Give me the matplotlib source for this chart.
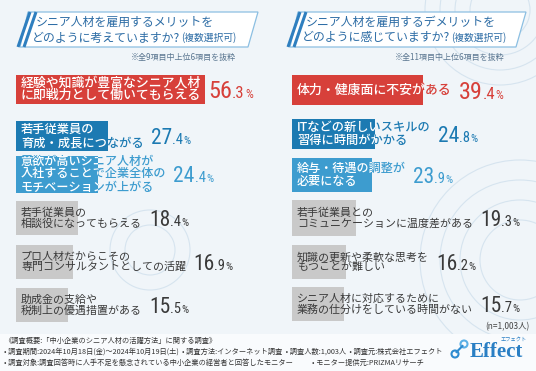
import matplotlib.pyplot as plt
from matplotlib import font_manager
from matplotlib.patches import Polygon, Arc, Circle, Rectangle

plt.rcParams['font.family'] = ['Noto Sans CJK JP', 'DejaVu Sans']

W, H = 536, 371

left_title = "シニア人材を雇用するメリットを"
left_title2 = "どのように考えていますか?"
left_note = "※全9項目中上位6項目を抜粋"
left_labels = [
    "経験や知識が豊富なシニア人材\nに即戦力として働いてもらえる",
    "若手従業員の\n育成・成長につながる",
    "意欲が高いシニア人材が\n入社することで企業全体の\nモチベーションが上がる",
    "若手従業員の\n相談役になってもらえる",
    "プロ人材だからこその\n専門コンサルタントとしての活躍",
    "助成金の支給や\n税制上の優遇措置がある",
]
left_values = [56.3, 27.4, 24.4, 18.4, 16.9, 15.5]

right_title = "シニア人材を雇用するデメリットを"
right_title2 = "どのように感じていますか?"
right_note = "※全11項目中上位6項目を抜粋"
right_labels = [
    "体力・健康面に不安がある",
    "ITなどの新しいスキルの\n習得に時間がかかる",
    "給与・待遇の調整が\n必要になる",
    "若手従業員との\nコミュニケーションに温度差がある",
    "知識の更新や柔軟な思考を\nもつことが難しい",
    "シニア人材に対応するために\n業務の仕分けをしている時間がない",
]
right_values = [39.4, 24.8, 23.9, 19.3, 16.2, 15.7]

footer = [
    "《調査概要:「中小企業のシニア人材の活躍方法」に関する調査》",
    "• 調査期間:2024年10月18日(金)〜2024年10月19日(土)  • 調査方法:インターネット調査  • 調査人数:1,003人  • 調査元:株式会社エフェクト",
    "• 調査対象:調査回答時に人手不足を懸念されている中小企業の経営者と回答したモニター",
]
footer_extra = "• モニター提供元:PRIZMAリサーチ"
n_note = "(n=1,003人)"

RED = '#D7403A'
BLUE = '#1C7AB2'
LBLUE = '#3D9CCF'
GRAY = '#C9C9C9'
DARK = '#3A3A3A'
TITLE = '#2C6CA5'
bar_colors = [RED, BLUE, LBLUE, GRAY, GRAY, GRAY]
txt_colors = [RED, BLUE, LBLUE, DARK, DARK, DARK]
label_sizes = [9.3, 8.8, 8.7, 7.9, 7.9, 7.9]
# percent font sizes: integer part, decimal part, percent sign
pct_sizes = [(17.5, 12, 9)] + [(15.5, 10.5, 8)] * 5

# pick a narrow face for the numbers if one is installed
installed = {f.name for f in font_manager.fontManager.ttflist}
num_family = 'Roboto'
for cand in ['Roboto Condensed', 'Liberation Sans Narrow', 'DejaVu Sans Condensed', 'Open Sans Condensed']:
    if cand in installed:
        num_family = cand
        break

fig = plt.figure(figsize=(W / 100, H / 100), dpi=100)
fig.patch.set_facecolor('#F0F5F9')

bg = fig.add_axes([0, 0, 1, 1], zorder=0)
bg.set_xlim(0, W)
bg.set_ylim(H, 0)
bg.axis('off')

# faint decorative rings
for cx, cy, rs in [(500, 10, [30, 45, 60, 75]), (520, 260, [40, 60, 80, 100]), (150, 250, [25, 40])]:
    for r in rs:
        bg.add_patch(Arc((cx, cy), 2 * r, 2 * r, color='#D6E4EF', lw=0.8))
bg.add_patch(Rectangle((0, 334), W, 37, color='#F9FBFD', lw=0))

panels = [
    dict(title=left_title, title2=left_title2, note=left_note, labels=left_labels,
         values=left_values, x0=16, scale=3.36, bx=(20, 28, 258, 248), note_x=236,
         rows=[89, 136, 174, 218, 262, 305], hts=[29, 30, 37, 34, 34, 34]),
    dict(title=right_title, title2=right_title2, note=right_note, labels=right_labels,
         values=right_values, x0=292, scale=3.33, bx=(290, 298, 526, 516), note_x=504,
         rows=[90, 134, 175, 218, 262, 304], hts=[30, 30, 34, 36, 34, 34]),
]

txt = fig.add_axes([0, 0, 1, 1], zorder=2)
txt.set_xlim(0, W)
txt.set_ylim(H, 0)
txt.axis('off')
txt.patch.set_alpha(0)

fig.canvas.draw()
rend = fig.canvas.get_renderer()
inv = txt.transData.inverted()


def right_edge(t):
    bb = t.get_window_extent(rend)
    return inv.transform((bb.x1, bb.y0))[0]


for p in panels:
    # header box
    x_bl, x_tl, x_tr, x_br = p['bx']
    txt.add_patch(Polygon([(x_tl, 12), (x_tr, 12), (x_br, 47), (x_bl, 47)], closed=True,
                          facecolor='white', edgecolor='#8CBFE2', lw=0.9, zorder=1))
    for dx in (0, 6):
        txt.plot([x_bl - 2 + dx, x_tl + 2 + dx], [47, 12], color='#2F7FBF', lw=2.2,
                 solid_capstyle='butt', zorder=2)
    tx = x_tl + 8
    txt.text(tx, 22, p['title'], fontsize=8.6, color=TITLE, va='center', ha='left')
    t2 = txt.text(tx - 4, 38, p['title2'], fontsize=8.6, color=TITLE, va='center', ha='left')
    txt.text(right_edge(t2) + 1, 38, "(複数選択可)", fontsize=7, color=TITLE, va='center', ha='left')
    txt.text(p['note_x'], 57, p['note'], fontsize=5.8, color='#5A7690', va='center', ha='right')

    ax = fig.add_axes([p['x0'] / W, 0, 70 * p['scale'] / W, 1], zorder=1)
    ax.set_xlim(0, 70)
    ax.set_ylim(H, 0)
    ax.axis('off')
    ax.patch.set_alpha(0)
    bars = ax.barh(p['rows'], p['values'], height=p['hts'], color=bar_colors, lw=0)

    for i, (lab, val, yc, bar) in enumerate(zip(p['labels'], p['values'], p['rows'], bars)):
        x = p['x0'] + 5
        wt = 'medium' if i < 3 else 'normal'
        t = txt.text(x, yc, lab, fontsize=label_sizes[i], color=txt_colors[i], va='center',
                     ha='left', linespacing=1.0, fontweight=wt)
        if i < 3:
            w = txt.text(x, yc, lab, fontsize=label_sizes[i], color='white', va='center',
                         ha='left', linespacing=1.0, fontweight=wt, clip_on=True)
            w.set_clip_path(bar)
        xe = right_edge(t) + 7
        whole, dec = f"{val:.1f}".split('.')
        s_big, s_dec, s_pct = pct_sizes[i]
        base = yc + s_big * 1.389 * 0.36
        t_big = txt.text(xe, base, whole, fontsize=s_big, color=txt_colors[i], va='baseline',
                         ha='left', family=num_family)
        t_dec = txt.text(right_edge(t_big) + 0.2, base, '.' + dec, fontsize=s_dec,
                         color=txt_colors[i], va='baseline', ha='left', family=num_family)
        txt.text(right_edge(t_dec) + 0.2, base, '%', fontsize=s_pct, color=txt_colors[i],
                 va='baseline', ha='left', family=num_family)

txt.text(530, 327, n_note, fontsize=6, color='#444444', va='center', ha='right')

for k, line in enumerate(footer):
    txt.text(4, 341 + k * 11, line, fontsize=5.2, color='#333333', va='center', ha='left')
txt.text(312, 363, footer_extra, fontsize=5.2, color='#333333', va='center', ha='left')

# logo
txt.add_patch(Circle((455, 354), 3.5, fill=False, ec='#2E8BD0', lw=1.5))
txt.add_patch(Circle((464, 344), 3.5, fill=False, ec='#5BB0E6', lw=1.5))
txt.plot([456.5, 462.5], [352, 346], color='#2E8BD0', lw=1.5)
txt.text(470, 357, "Effect", fontsize=15, color='#2A7FC4', family='Liberation Serif',
         fontweight='bold', va='baseline', ha='left')
txt.text(527, 339, "エフェクト", fontsize=3.8, color='#2A7FC4', va='center', ha='right')

fig.savefig('out.png', dpi=100, facecolor=fig.get_facecolor())
